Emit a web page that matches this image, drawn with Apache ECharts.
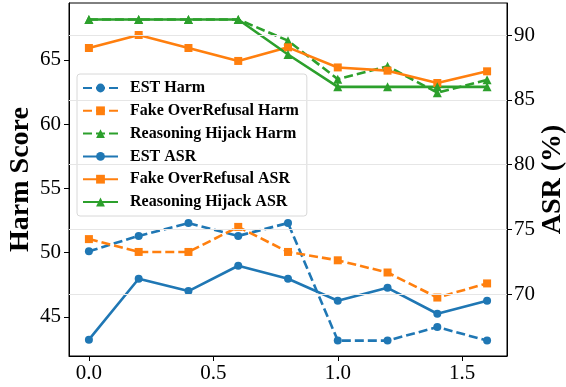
<!DOCTYPE html>
<html>
<head>
<meta charset="utf-8">
<script src="https://cdn.jsdelivr.net/npm/echarts@6/dist/echarts.min.js"></script>
<style>html,body{margin:0;padding:0;background:#fff}#c{width:566px;height:387px}</style>
</head>
<body>
<div id="c"></div>
<script>
const xValues = [0.0, 0.2, 0.4, 0.6, 0.8, 1.0, 1.2, 1.4, 1.6];
const xTicks = [0.0, 0.5, 1.0, 1.5];
const harmTicks = [45, 50, 55, 60, 65];
const asrTicks = [70, 75, 80, 85, 90];

const estHarm = [50.1, 51.3, 52.3, 51.3, 52.3, 43.15, 43.15, 44.2, 43.15];
const fakeHarm = [51.05, 50.05, 50.05, 52.0, 50.05, 49.4, 48.45, 46.5, 47.6];
const hijackHarm = [68.15, 68.15, 68.15, 68.15, 66.5, 63.5, 64.5, 62.45, 63.45];
const estAsr = [66.5, 71.2, 70.25, 72.2, 71.2, 69.5, 70.5, 68.5, 69.5];
const fakeAsr = [89.0, 90.0, 89.0, 88.0, 89.05, 87.5, 87.25, 86.3, 87.2];
const hijackAsr = [91.2, 91.2, 91.2, 91.2, 88.5, 86.0, 86.0, 86.0, 86.0];

const C_BLUE = '#1f77b4', C_ORANGE = '#ff7f0e', C_GREEN = '#2ca02c';
const FONT = '"Liberation Serif", "DejaVu Serif", serif';

function pairs(ys) { return xValues.map((x, i) => [x, ys[i]]); }
function mk(name, ys, color, symbol, dashed, yIdx, size) {
  return {
    name, type: 'line', data: pairs(ys), yAxisIndex: yIdx,
    symbol, symbolSize: size, showSymbol: true,
    lineStyle: { color, width: 2.6, type: dashed ? [9, 4] : 'solid' },
    itemStyle: { color },
    emphasis: { disabled: true }, animation: false
  };
}

const series = [
  mk('EST Harm', estHarm, C_BLUE, 'circle', true, 0, 8),
  mk('Fake OverRefusal Harm', fakeHarm, C_ORANGE, 'rect', true, 0, 8),
  mk('Reasoning Hijack Harm', hijackHarm, C_GREEN, 'triangle', true, 0, 9),
  mk('EST ASR', estAsr, C_BLUE, 'circle', false, 1, 8),
  mk('Fake OverRefusal ASR', fakeAsr, C_ORANGE, 'rect', false, 1, 8),
  mk('Reasoning Hijack ASR', hijackAsr, C_GREEN, 'triangle', false, 1, 9)
];
series.unshift({
  type: 'line', yAxisIndex: 1, data: [], silent: true, animation: false,
  markLine: {
    silent: true, symbol: 'none', label: { show: false },
    lineStyle: { color: '#e6e6e6', width: 1, type: 'solid' },
    data: asrTicks.map(v => ({ yAxis: v }))
  }
});

const chart = echarts.init(document.getElementById('c'), null, { renderer: 'canvas' });
chart.setOption({
  animation: false,
  grid: { left: 69, right: 59, top: 3, bottom: 31, containLabel: false, outerBoundsMode: 'none', show: true, borderColor: '#000', borderWidth: 1, backgroundColor: 'transparent' },
  legend: {
    orient: 'vertical', left: 77, top: 74,
    data: ['EST Harm', 'Fake OverRefusal Harm', 'Reasoning Hijack Harm', 'EST ASR', 'Fake OverRefusal ASR', 'Reasoning Hijack ASR'],
    itemWidth: 35, itemHeight: 11, itemGap: 6.8,
    padding: [6, 8, 6, 5],
    backgroundColor: 'rgba(255,255,255,0.8)', borderColor: '#d8d8d8', borderWidth: 1, borderRadius: 3,
    textStyle: { fontFamily: FONT, fontWeight: 'bold', fontSize: 16, color: '#000', lineHeight: 16, padding: [0, 0, 0, 7] }
  },
  xAxis: {
    type: 'value', min: -0.08, max: 1.68,
    axisLine: { show: true, onZero: false, lineStyle: { color: '#000', width: 1 } },
    axisTick: { show: true, length: 5, customValues: xTicks, lineStyle: { color: '#000' } },
    axisLabel: { customValues: xTicks, formatter: v => v.toFixed(1), fontFamily: FONT, fontSize: 21, color: '#000', margin: 7 },
    splitLine: { show: false }
  },
  yAxis: [
    {
      type: 'value', position: 'left', min: 41.95, max: 69.43,
      name: 'Harm Score', nameLocation: 'middle', nameRotate: 90, nameGap: 34, nameMoveOverlap: false,
      nameTextStyle: { fontFamily: FONT, fontWeight: 'bold', fontSize: 28, color: '#000' },
      axisLine: { show: true, onZero: false, lineStyle: { color: '#000', width: 1 } },
      axisTick: { show: true, length: 5, customValues: harmTicks, lineStyle: { color: '#000' } },
      axisLabel: { customValues: harmTicks, fontFamily: FONT, fontSize: 21, color: '#000', margin: 8 },
      splitLine: { show: false }
    },
    {
      type: 'value', position: 'right', min: 65.24, max: 92.47,
      name: 'ASR (%)', nameLocation: 'middle', nameRotate: 90, nameGap: 32, nameMoveOverlap: false,
      nameTextStyle: { fontFamily: FONT, fontWeight: 'bold', fontSize: 28, color: '#000' },
      axisLine: { show: true, onZero: false, lineStyle: { color: '#000', width: 1 } },
      axisTick: { show: true, length: 5, customValues: asrTicks, lineStyle: { color: '#000' } },
      axisLabel: { customValues: asrTicks, fontFamily: FONT, fontSize: 21, color: '#000', margin: 7 },
      splitLine: { show: false }
    }
  ],
  series
});
</script>
</body>
</html>
